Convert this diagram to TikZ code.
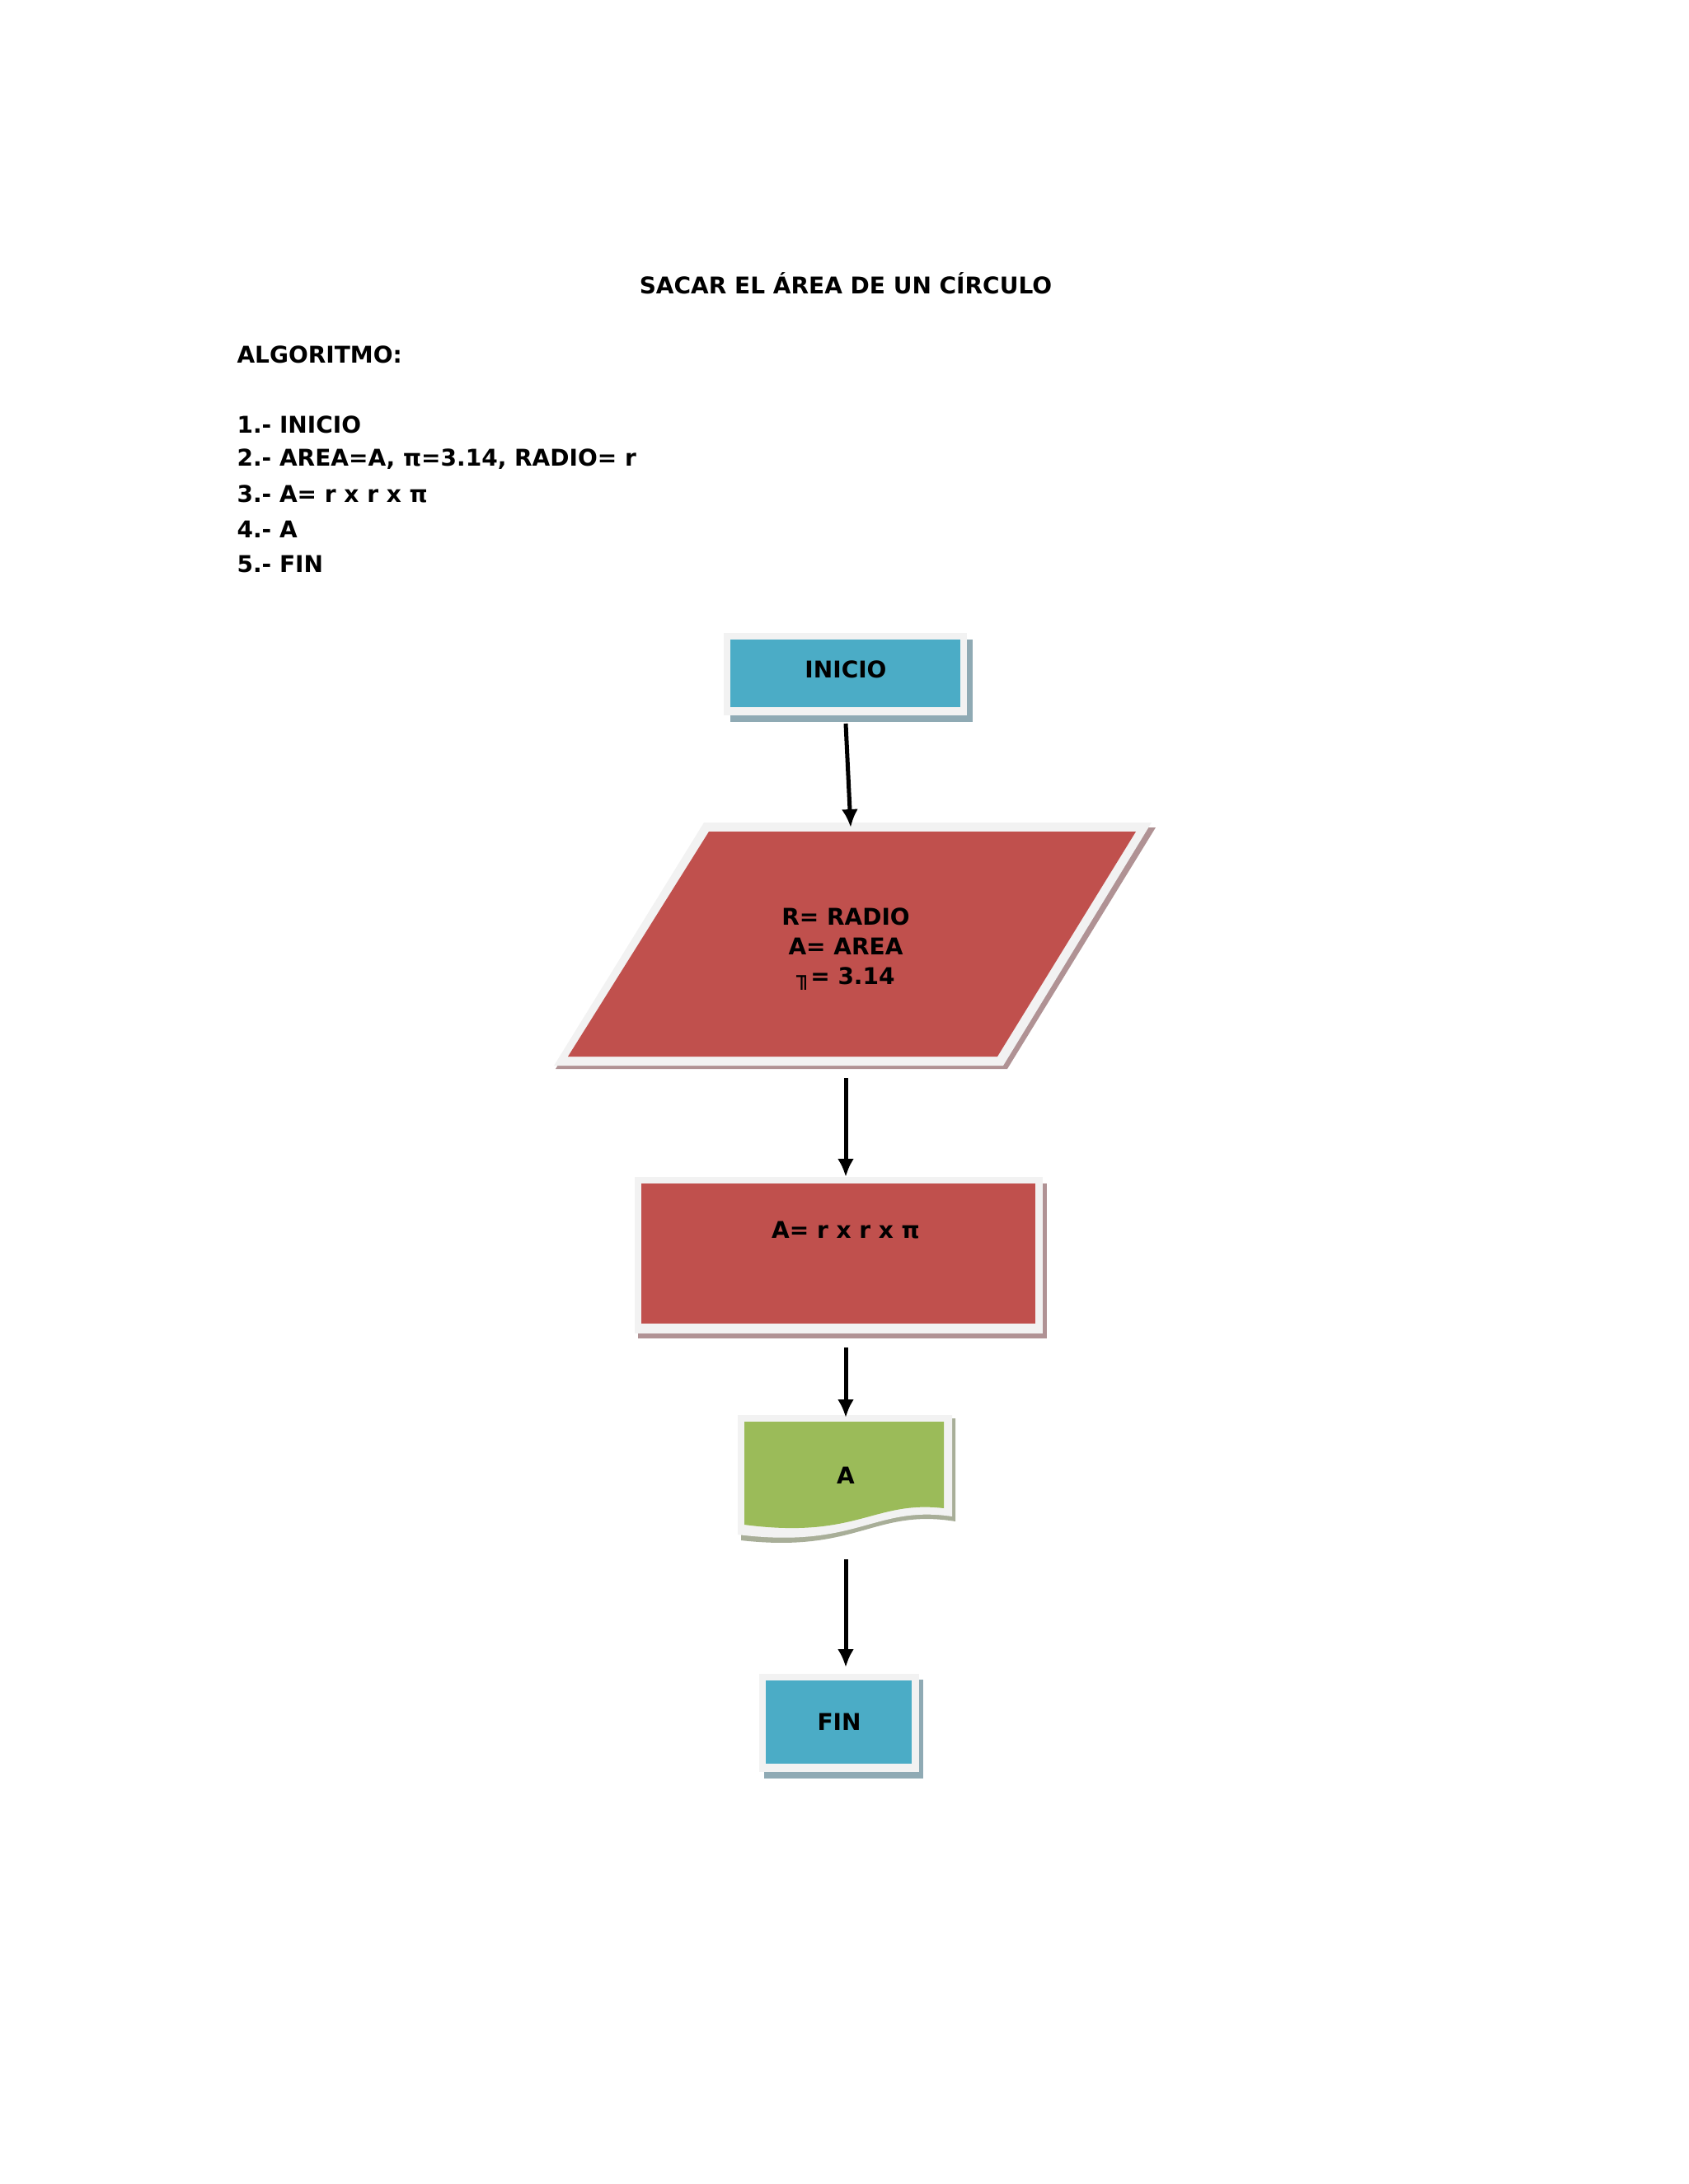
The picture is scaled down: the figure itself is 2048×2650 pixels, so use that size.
\documentclass[tikz,border=0pt]{standalone}
\usepackage{fontspec}
\setmainfont{DejaVu Sans}
\begin{document}
\begin{tikzpicture}[x=1pt,y=-1pt,
  txt/.style={font=\fontsize{28}{36}\selectfont\bfseries,text=black},
  arr/.style={line width=5pt,-{Latex[length=22pt,width=20pt]}},
  ]
\usetikzlibrary{arrows.meta}
\useasboundingbox (0,0) rectangle (2048,2650);
\definecolor{cblue}{HTML}{4BACC6}
\definecolor{cred}{HTML}{C0504D}
\definecolor{cgreen}{HTML}{9BBB59}
\definecolor{shb}{HTML}{8FAAB4}
\definecolor{shr}{HTML}{B09294}
\definecolor{shg}{HTML}{A8AE98}
\definecolor{bord}{HTML}{F2F2F2}
% texts
\node[txt] (title) at (1026,344) {SACAR EL ÁREA DE UN CÍRCULO};
\node[txt,anchor=west] (alg) at (284,430) {ALGORITMO:};
\node[txt,anchor=west] (l1) at (284,515) {1.- INICIO};
\node[txt,anchor=west] (l2) at (284,557) {2.- AREA=A, π=3.14, RADIO= r};
\node[txt,anchor=west] (l3) at (284,599) {3.- A= r x r x π};
\node[txt,anchor=west] (l4) at (284,642) {4.- A};
\node[txt,anchor=west] (l5) at (284,684) {5.- FIN};
% INICIO
\fill[shb] (886,776) rectangle (1180,876);
\fill[bord] (878,768) rectangle (1173,868);
\fill[cblue] (886,776) rectangle (1165,858);
\node[txt] (ini) at (1026,812) {INICIO};
\coordinate (iniB) at (1026,878);
% parallelogram
\fill[shr] (858,1004) -- (1402,1004) -- (1222,1297) -- (674,1297) -- cycle;
\fill[bord] (854,998) -- (1397,998) -- (1217,1293) -- (672,1293) -- cycle;
\fill[cred] (860,1009) -- (1378,1009) -- (1210,1282) -- (689,1282) -- cycle;
\node[txt,align=center] (par) at (1026,1152) {R= RADIO\\A= AREA\\╖= 3.14};
\coordinate (parT) at (1032,1004);
\coordinate (parB) at (1026,1308);
% process
\fill[shr] (774,1436) rectangle (1270,1624);
\fill[bord] (770,1428) rectangle (1265,1618);
\fill[cred] (778,1436) rectangle (1256,1606);
\node[txt] (proc) at (1026,1493) {A= r x r x π};
\coordinate (procT) at (1026,1428);
\coordinate (procB) at (1026,1635);
% document
\fill[shg] (899,1721) -- (1159,1721) -- (1159,1846) .. controls (1060,1830) and (1040,1885) .. (899,1869) -- cycle;
\fill[bord] (895,1717) -- (1155,1717) -- (1155,1840) .. controls (1060,1826) and (1040,1880) .. (895,1862) -- cycle;
\fill[cgreen] (903,1725) -- (1145,1725) -- (1145,1830) .. controls (1060,1820) and (1040,1868) .. (903,1850) -- cycle;
\node[txt] (doc) at (1026,1790) {A};
\coordinate (docT) at (1026,1720);
\coordinate (docB) at (1026,1892);
% FIN
\fill[shb] (927,2038) rectangle (1120,2158);
\fill[bord] (921,2031) rectangle (1115,2150);
\fill[cblue] (929,2039) rectangle (1106,2140);
\node[txt] (fin) at (1018,2089) {FIN};
\coordinate (finT) at (1026,2023);
% arrows
\draw[arr] (iniB) -- (parT);
\draw[arr] (parB) -- (procT);
\draw[arr] (procB) -- (docT);
\draw[arr] (docB) -- (finT);
\end{tikzpicture}
\end{document}
